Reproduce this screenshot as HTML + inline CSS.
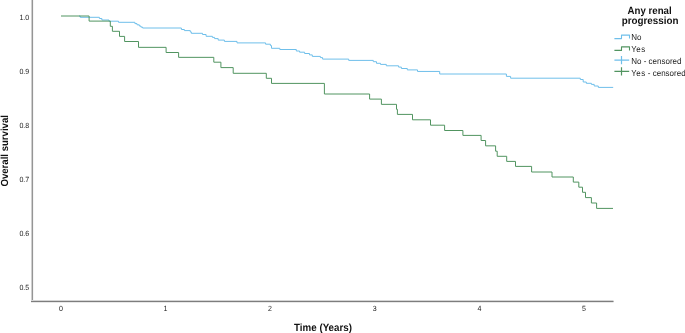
<!DOCTYPE html>
<html><head><meta charset="utf-8"><style>
html,body{margin:0;padding:0;background:#fff;}
body{width:685px;height:333px;overflow:hidden;}
svg{display:block;text-rendering:geometricPrecision;will-change:transform;font-family:"Liberation Sans", sans-serif;}
</style></head><body>
<svg width="685" height="333" viewBox="0 0 685 333"><rect width="685" height="333" fill="#fff"/><g shape-rendering="crispEdges"><rect x="31" y="0" width="1" height="301" fill="#cfcfcf"/><rect x="32" y="0" width="1" height="301" fill="#959595"/><rect x="33" y="0" width="1" height="300" fill="#f5f5f5"/><rect x="31" y="300" width="582" height="1" fill="#d5d5d5"/><rect x="31" y="301" width="582" height="1" fill="#7d7d7d"/><rect x="31" y="302" width="582" height="1" fill="#e8e8e8"/><rect x="613" y="300" width="1" height="1" fill="#eaeaea"/><rect x="613" y="301" width="1" height="1" fill="#b5b5b5"/><rect x="613" y="302" width="1" height="1" fill="#f3f3f3"/></g><text transform="translate(29.2,19.8) scale(0.94,1)" text-anchor="end" font-size="7.5" fill="#222">1.0</text><text transform="translate(29.2,73.8) scale(0.94,1)" text-anchor="end" font-size="7.5" fill="#222">0.9</text><text transform="translate(29.2,127.9) scale(0.94,1)" text-anchor="end" font-size="7.5" fill="#222">0.8</text><text transform="translate(29.2,182.0) scale(0.94,1)" text-anchor="end" font-size="7.5" fill="#222">0.7</text><text transform="translate(29.2,236.1) scale(0.94,1)" text-anchor="end" font-size="7.5" fill="#222">0.6</text><text transform="translate(29.2,290.2) scale(0.94,1)" text-anchor="end" font-size="7.5" fill="#222">0.5</text><text transform="translate(61,310.8) scale(0.94,1)" text-anchor="middle" font-size="7.5" fill="#222">0</text><text transform="translate(165.4,310.8) scale(0.94,1)" text-anchor="middle" font-size="7.5" fill="#222">1</text><text transform="translate(270,310.8) scale(0.94,1)" text-anchor="middle" font-size="7.5" fill="#222">2</text><text transform="translate(374.7,310.8) scale(0.94,1)" text-anchor="middle" font-size="7.5" fill="#222">3</text><text transform="translate(479.5,310.8) scale(0.94,1)" text-anchor="middle" font-size="7.5" fill="#222">4</text><text transform="translate(584,310.8) scale(0.94,1)" text-anchor="middle" font-size="7.5" fill="#222">5</text><text transform="translate(323,331) scale(0.93,1)" text-anchor="middle" font-size="10.5" font-weight="bold" fill="#111">Time (Years)</text><text transform="translate(7.6,150.8) rotate(-90) scale(0.935,1)" text-anchor="middle" font-size="10.25" font-weight="bold" fill="#111">Overall survival</text><path d="M79.0,16.0H80.2V17.3H99.4V18.5H101.9V20.0H109V21.2H118.5V22.3H134.9V23.6H137V24.8H139.3V26H140.9V27.1H142.6V28.0H181.4V29.5H184.4V30.6H190.3V31.9H191.3V33.3H202.5V34.5H206.1V36.3H212.4V37.4H214.6V38.6H218.2V40.1H224.4V41.4H237V42.9H265.6V44.2H270.4V45.6H271.5V48.3H279.8V49.5H296.3V51H299.6V52.2H304.6V53.5H309.5V54.9H312.3V56.4H320.4V57.6H322.6V59.1H348.7V60.4H373.3V61.7H376.5V63.3H380.5V64.4H386.3V65.8H398.6V67.1H401.4V68.5H407.3V69.9H417.5V71.45H439.7V74H506.4V76.4H510.6V78.2H580.3V79.5H583.2V82H586.3V83.3H591.4V84.4H594.2V86H598.3V87.4H613.2" fill="none" stroke="#6fbfea" stroke-width="1.0"/><path d="M61,16H89.1V21.1H110.3V26.3H112.4V31.3H119.5V36.4H124.6V41.5H138.5V47.35H166.1V52.5H178.6V57.35H213.8V62.2H220.9V67.6H233.2V73.3H266.3V78.3H271.5V83.4H324.4V94.0H369.6V99.1H381.4V104.35H396.5V109.3H397.4V114.4H412.5V119.8H430.5V125.2H444.6V130.5H462.9V135.4H481.1V140.5H485.6V145.85H495.6V151.2H497.2V156.3H506.7V161.4H515.5V166.4H531.6V172.0H552V177.0H573.3V182.1H578.8V187.2H582.5V192.3H585.5V197.6H591.4V203H596.6V208.4H613" fill="none" stroke="#519460" stroke-width="1.0"/><text transform="translate(649.6,13.6) scale(0.93,1)" text-anchor="middle" font-size="10.4" font-weight="bold" fill="#111">Any renal</text><text transform="translate(650,23.5) scale(0.945,1)" text-anchor="middle" font-size="10.4" font-weight="bold" fill="#111">progression</text><path d="M614.4,38.6H621.5V35.1H629.5V38.6" fill="none" stroke="#6fbfea" stroke-width="1.1" stroke-linejoin="round"/><path d="M614.4,50.4H621.5V46.9H629.5V50.4" fill="none" stroke="#519460" stroke-width="1.1" stroke-linejoin="round"/><path d="M614.4,60.2H629.2M621.5,56.0V64.2" fill="none" stroke="#6fbfea" stroke-width="1.2"/><path d="M614.4,71.4H629.2M621.5,67.2V75.4" fill="none" stroke="#519460" stroke-width="1.2"/><text transform="translate(631.3,40.1) scale(0.93,1)" font-size="8.6" fill="#222">No</text><text transform="translate(631.3,51.9) scale(0.93,1)" font-size="8.6" fill="#222"><tspan letter-spacing="0.45">Yes</tspan></text><text transform="translate(631.3,63.7) scale(0.93,1)" font-size="8.6" fill="#222">No - censored</text><text transform="translate(631.3,75.8) scale(0.93,1)" font-size="8.6" fill="#222"><tspan letter-spacing="0.45">Yes</tspan> - censored</text></svg>
</body></html>
